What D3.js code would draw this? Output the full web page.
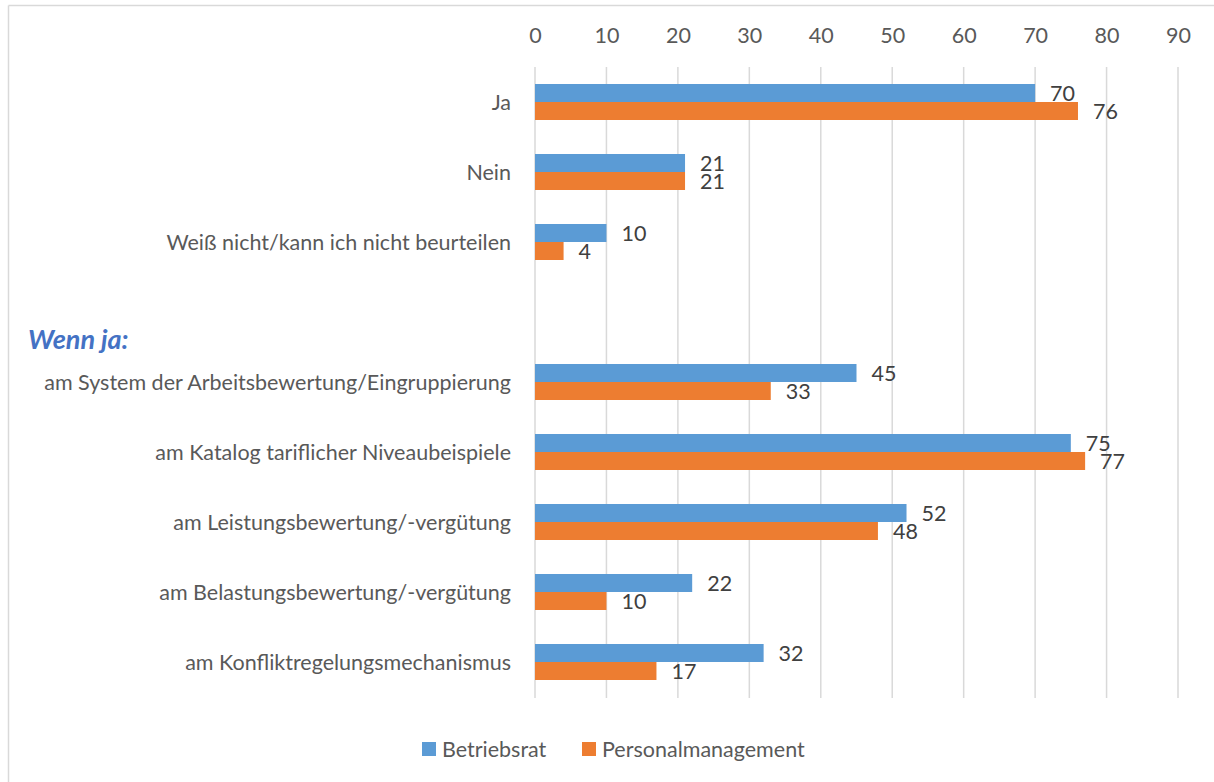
<!DOCTYPE html>
<html>
<head>
<meta charset="utf-8">
<script src="https://cdn.jsdelivr.net/npm/d3@7"></script>
<style>
  html, body { margin: 0; padding: 0; background: #fff; }
  svg { display: block; font-family: Lato, "Open Sans", sans-serif; }
</style>
</head>
<body>
<svg id="chart" width="1214" height="782"></svg>
<script>
// Category rows (an empty row separates the two question blocks)
const categories = [
  "Ja",
  "Nein",
  "Weiß nicht/kann ich nicht beurteilen",
  "",
  "am System der Arbeitsbewertung/Eingruppierung",
  "am Katalog tariflicher Niveaubeispiele",
  "am Leistungsbewertung/-vergütung",
  "am Belastungsbewertung/-vergütung",
  "am Konfliktregelungsmechanismus"
];
const seriesNames = ["Betriebsrat", "Personalmanagement"];
const betriebsrat = [70, 21, 10, null, 45, 75, 52, 22, 32];
const personalmanagement = [76, 21, 4, null, 33, 77, 48, 10, 17];
const tickValues = [0, 10, 20, 30, 40, 50, 60, 70, 80, 90];
const sectionLabel = "Wenn ja:";

const colors = ["#5B9BD5", "#ED7D31"];
const series = [betriebsrat, personalmanagement];
const fontSize = "21.5px";

const svg = d3.select("#chart");

// outer frame (only top and left edges fall inside the view)
svg.append("line").attr("x1", 8.5).attr("x2", 1214).attr("y1", 5.5).attr("y2", 5.5)
  .attr("stroke", "#D9D9D9").attr("stroke-width", 1.5);
svg.append("line").attr("x1", 8.5).attr("x2", 8.5).attr("y1", 5.5).attr("y2", 782)
  .attr("stroke", "#D9D9D9").attr("stroke-width", 1.5);

const x = d3.scaleLinear().domain([0, 90]).range([535, 1178]);
const y = d3.scaleBand().domain(d3.range(categories.length)).range([67, 697]).paddingInner(0).paddingOuter(0);
const barH = 18;

// vertical gridlines
svg.append("g").selectAll("line").data(tickValues).join("line")
  .attr("x1", d => x(d)).attr("x2", d => x(d))
  .attr("y1", 67).attr("y2", 698)
  .attr("stroke", "#D9D9D9").attr("stroke-width", 1.5);

// top axis labels
const axis = svg.append("g").attr("transform", "translate(0,43)")
  .call(d3.axisTop(x).tickValues(tickValues).tickSize(0).tickPadding(0));
axis.select(".domain").remove();
axis.selectAll("text").attr("fill", "#595959").style("font-size", fontSize)
  .style("font-family", "Lato, 'Open Sans', sans-serif");

// category labels
svg.append("g").selectAll("text").data(categories).join("text")
  .attr("x", 511)
  .attr("y", (d, i) => y(i) + y.bandwidth() / 2)
  .attr("dy", "0.35em")
  .attr("text-anchor", "end")
  .attr("fill", "#595959")
  .style("font-size", fontSize)
  .text(d => d);

// section heading
svg.append("text")
  .attr("x", 28).attr("y", 340).attr("dy", "0.35em")
  .attr("fill", "#4472C4")
  .style("font-size", "27px").style("font-weight", "bold").style("font-style", "italic")
  .text(sectionLabel);

// bars and value labels
series.forEach((vals, s) => {
  const g = svg.append("g");
  const rows = vals.map((v, i) => ({ v, i })).filter(d => d.v != null);
  const cy = d => y(d.i) + y.bandwidth() / 2 - barH + s * barH;
  g.selectAll("rect").data(rows).join("rect")
    .attr("x", x(0))
    .attr("y", cy)
    .attr("width", d => x(d.v) - x(0))
    .attr("height", barH)
    .attr("fill", colors[s]);
  g.selectAll("text").data(rows).join("text")
    .attr("x", d => x(d.v) + 15)
    .attr("y", d => cy(d) + barH / 2)
    .attr("dy", "0.35em")
    .attr("fill", "#404040")
    .style("font-size", fontSize)
    .text(d => d.v);
});

// legend
const legend = svg.append("g");
const legendX = [422, 582];
seriesNames.forEach((name, s) => {
  legend.append("rect").attr("x", legendX[s]).attr("y", 742).attr("width", 14).attr("height", 14)
    .attr("fill", colors[s]);
  legend.append("text").attr("x", legendX[s] + 20).attr("y", 749).attr("dy", "0.35em")
    .attr("fill", "#595959").style("font-size", fontSize).text(name);
});
</script>
</body>
</html>
